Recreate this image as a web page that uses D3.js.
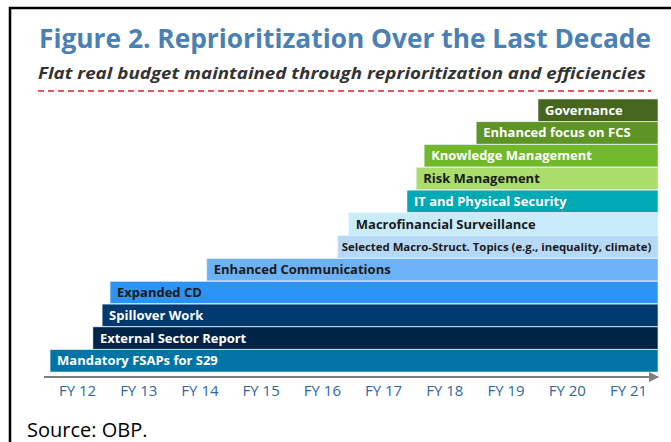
<!DOCTYPE html>
<html>
<head>
<meta charset="utf-8">
<script src="https://cdn.jsdelivr.net/npm/d3@7"></script>
<style>
  body { margin: 0; background: #fff; }
  svg { display: block; }
</style>
</head>
<body>
<script>
// chart data, top bar first
const labels = ["Governance", "Enhanced focus on FCS", "Knowledge Management", "Risk Management",
  "IT and Physical Security", "Macrofinancial Surveillance",
  "Selected Macro-Struct. Topics (e.g., inequality, climate)", "Enhanced Communications",
  "Expanded CD", "Spillover Work", "External Sector Report", "Mandatory FSAPs for S29"]
// fiscal year where each item starts
const starts = [19.53, 18.52, 17.67, 17.54, 17.39, 16.44, 16.26, 14.12, 12.54, 12.41, 12.26, 11.56]
const ends = [21.49, 21.49, 21.49, 21.49, 21.49, 21.49, 21.49, 21.49, 21.49, 21.49, 21.49, 21.49]
const colors = ["#46661f", "#5e9423", "#72b82b", "#aadd6b", "#00a9b3", "#c8ecfb",
  "#b7d9f8", "#6cb2f8", "#2b94f6", "#003a70", "#002448", "#0074a6"]
const textColors = ["#fff", "#fff", "#fff", "#1a1a1a", "#fff", "#1a1a1a",
  "#1a1a1a", "#1a1a1a", "#1a1a1a", "#fff", "#fff", "#fff"]
const years = [12, 13, 14, 15, 16, 17, 18, 19, 20, 21]

const width = 671, height = 442

const svg = d3.select("body")
  .append("svg")
  .attr("width", width)
  .attr("height", height)

// frame
svg.append("path")
  .attr("d", `M10,${height} L10,8 L${width},8`)
  .attr("fill", "none")
  .attr("stroke", "#000")
  .attr("stroke-width", 2.5)

svg.append("text")
  .attr("x", 39).attr("y", 48)
  .attr("font-family", "Open Sans")
  .attr("font-weight", 700)
  .attr("font-size", 27)
  .attr("fill", "#4a80b4")
  .attr("textLength", 612)
  .attr("lengthAdjust", "spacingAndGlyphs")
  .text("Figure 2. Reprioritization Over the Last Decade")

svg.append("text")
  .attr("x", 38).attr("y", 79)
  .attr("font-family", "Open Sans")
  .attr("font-weight", 700)
  .attr("font-style", "italic")
  .attr("font-size", 16.5)
  .attr("fill", "#333")
  .attr("textLength", 608)
  .attr("lengthAdjust", "spacingAndGlyphs")
  .text("Flat real budget maintained through reprioritization and efficiencies")

svg.append("line")
  .attr("x1", 38).attr("x2", 651)
  .attr("y1", 91).attr("y2", 91)
  .attr("stroke", "#d9202a")
  .attr("stroke-width", 1.5)
  .attr("stroke-dasharray", "6,4")

const x = d3.scaleLinear().domain([12, 21]).range([77, 628])
const y = d3.scaleBand().domain(labels).range([99, 372]).paddingInner(0.02)

const bars = svg.append("g")
  .selectAll("g")
  .data(labels)
  .enter().append("g")

bars.append("rect")
  .attr("x", (d, i) => x(starts[i]))
  .attr("y", d => y(d))
  .attr("width", (d, i) => x(ends[i]) - x(starts[i]))
  .attr("height", y.bandwidth())
  .attr("fill", (d, i) => colors[i])
  .attr("stroke", "#e8eef2")
  .attr("stroke-width", 0.6)

bars.append("text")
  .attr("x", (d, i) => x(starts[i]) + 7)
  .attr("y", d => y(d) + y.bandwidth() / 2 + 4.5)
  .attr("font-family", "Open Sans")
  .attr("font-weight", 700)
  .attr("font-size", 13)
  .attr("fill", (d, i) => textColors[i])
  .text(d => d)
  .each(function (d, i) {
    // shrink labels that would run past the bar end
    const room = x(ends[i]) - x(starts[i]) - 10
    const len = this.getComputedTextLength()
    if (len > room) {
      d3.select(this)
        .attr("x", x(starts[i]) + 4)
        .attr("font-size", 13 * room / len)
    }
  })

// axis with arrow head
svg.append("defs").append("marker")
  .attr("id", "arrow")
  .attr("viewBox", "0 0 10 10")
  .attr("refX", 9).attr("refY", 5)
  .attr("markerWidth", 5).attr("markerHeight", 5)
  .attr("orient", "auto")
  .append("path")
  .attr("d", "M0,0 L10,5 L0,10 z")
  .attr("fill", "#7f7f7f")

svg.append("line")
  .attr("x1", 44).attr("x2", 658)
  .attr("y1", 377).attr("y2", 377)
  .attr("stroke", "#7f7f7f")
  .attr("stroke-width", 2)
  .attr("marker-end", "url(#arrow)")

const axis = svg.append("g")
  .attr("transform", "translate(0,377)")
  .call(d3.axisBottom(x).tickValues(years).tickSize(0).tickPadding(8).tickFormat(d => "FY " + d))

axis.select(".domain").remove()
axis.selectAll("text")
  .attr("font-family", "Open Sans")
  .attr("font-size", 15)
  .attr("fill", "#2e67a6")

svg.append("text")
  .attr("x", 27).attr("y", 437)
  .attr("font-family", "Open Sans")
  .attr("font-size", 20)
  .attr("fill", "#000")
  .text("Source: OBP.")
</script>
</body>
</html>
